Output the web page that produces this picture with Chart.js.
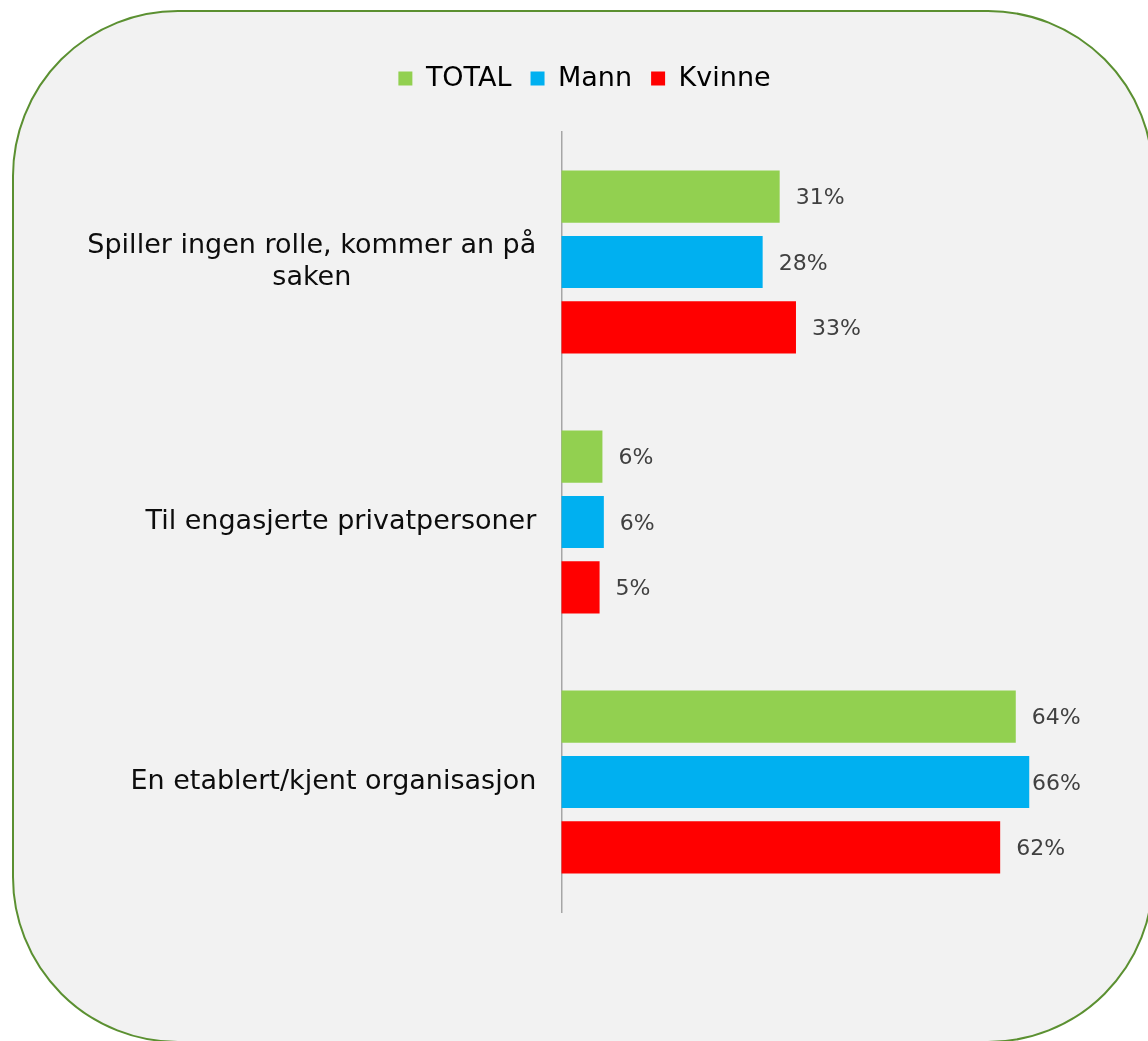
<!DOCTYPE html>
<html><head><meta charset="utf-8">
<script src="https://cdn.jsdelivr.net/npm/chart.js@4.4.0/dist/chart.umd.min.js"></script>
<style>
html,body{margin:0;padding:0;background:#fff;width:1148px;height:1041px;overflow:hidden;}
#frame{position:absolute;left:12px;top:10px;width:1142px;height:1033px;box-sizing:border-box;border:2.5px solid #5b9031;border-radius:166px;background:#f2f2f2;}
#wrap{position:absolute;left:0;top:0;width:1148px;height:1041px;}
</style></head><body>
<div id="frame"></div>
<div id="wrap"><canvas id="c" width="1148" height="1041"></canvas></div>
<script>
const categories = [["Spiller ingen rolle, kommer an på", "saken"], "Til engasjerte privatpersoner", "En etablert/kjent organisasjon"];
const seriesNames = ["TOTAL", "Mann", "Kvinne"];
const totalValues = [30.8, 5.8, 64.1];
const mannValues = [28.4, 6.0, 66.0];
const kvinneValues = [33.1, 5.4, 61.9];
const seriesColors = ["#92d050", "#00b0f0", "#ff0000"];

const FONT = "'DejaVu Sans'";

const catLabelPlugin = {
  id: 'catLabels',
  afterDraw(chart) {
    const ctx = chart.ctx, ys = chart.scales.y;
    ctx.save();
    ctx.font = '27px ' + FONT;
    ctx.fillStyle = '#0d0d0d';
    ctx.textBaseline = 'middle';
    ctx.textAlign = 'center';
    const right = chart.chartArea.left - 25;
    const lh = 32;
    chart.data.labels.forEach((lab, i) => {
      const lines = Array.isArray(lab) ? lab : [lab];
      const w = Math.max(...lines.map(l => ctx.measureText(l).width));
      const cx = right - w / 2;
      const cy = ys.getPixelForValue(i);
      lines.forEach((l, j) => ctx.fillText(l, cx, cy + (j - (lines.length - 1) / 2) * lh));
    });
    ctx.restore();
  }
};

const valueLabelPlugin = {
  id: 'valueLabels',
  afterDatasetsDraw(chart) {
    const ctx = chart.ctx;
    ctx.save();
    ctx.font = '22px ' + FONT;
    ctx.fillStyle = '#404040';
    ctx.textBaseline = 'middle';
    ctx.textAlign = 'left';
    chart.data.datasets.forEach((ds, di) => {
      const meta = chart.getDatasetMeta(di);
      meta.data.forEach((bar, i) => {
        const t = Math.round(ds.data[i]) + '%';
        const w = ctx.measureText(t).width;
        const x = Math.min(bar.x + 16, chart.chartArea.right - w);
        ctx.fillText(t, x, bar.y + 2);
      });
    });
    ctx.restore();
  }
};

new Chart(document.getElementById('c'), {
  type: 'bar',
  data: {
    labels: categories,
    datasets: [
      { label: seriesNames[0], data: totalValues, backgroundColor: seriesColors[0] },
      { label: seriesNames[1], data: mannValues, backgroundColor: seriesColors[1] },
      { label: seriesNames[2], data: kvinneValues, backgroundColor: seriesColors[2] }
    ]
  },
  options: {
    indexAxis: 'y',
    responsive: false,
    animation: false,
    devicePixelRatio: 1,
    categoryPercentage: 0.754,
    barPercentage: 0.797,
    layout: { padding: { top: 46, bottom: 129, left: 88, right: 67 } },
    plugins: {
      legend: {
        position: 'top',
        align: 'center',
        labels: { boxWidth: 14, boxHeight: 14, padding: 19, color: '#000', font: { family: FONT, size: 27 } }
      },
      tooltip: { enabled: false }
    },
    scales: {
      x: {
        position: 'top', min: 0, max: 73.3,
        grid: { display: false }, border: { display: false }, ticks: { display: false },
        afterFit(s) { s.height = Math.max(0, 132 - 46 - s.chart.legend.height); }
      },
      y: {
        grid: { display: false },
        border: { display: true, color: '#a6a6a6', width: 1.5 },
        ticks: { display: false },
        afterFit(s) { s.width = 473.3; }
      }
    }
  },
  plugins: [catLabelPlugin, valueLabelPlugin]
});
</script>
</body></html>
